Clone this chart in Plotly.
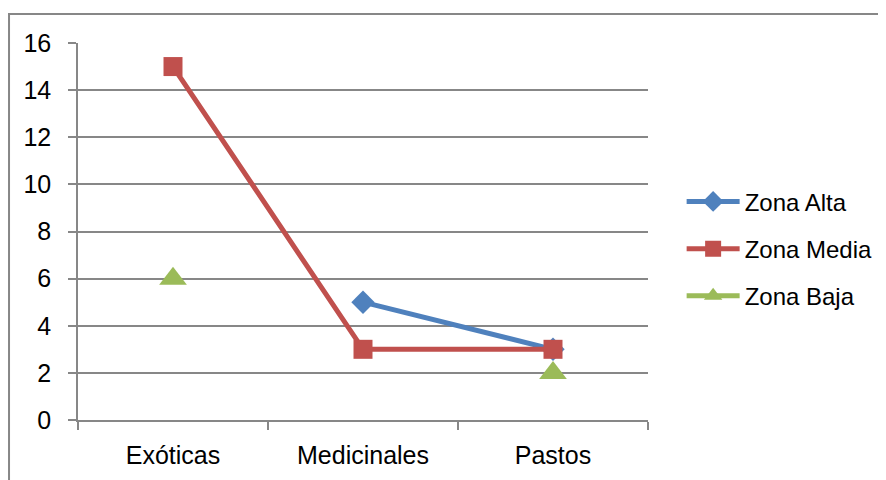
import plotly.graph_objects as go

categorias = ["Exóticas", "Medicinales", "Pastos"]
zona_alta = [None, 5, 3]
zona_media = [15, 3, 3]
zona_baja = [6, None, 2]
y_ticks = [0, 2, 4, 6, 8, 10, 12, 14, 16]

FONT = "Liberation Sans"
GRAY = "#878787"

fig = go.Figure()
series = [
    ("Zona Alta", zona_alta, "#4F81BD", "diamond", 18),
    ("Zona Media", zona_media, "#C0504D", "square", 19),
    ("Zona Baja", zona_baja, "#9BBB59", "triangle-up", 24),
]
for name, vals, color, sym, size in series:
    fig.add_trace(go.Scatter(
        x=categorias, y=vals, name=name, mode="lines+markers",
        line=dict(color=color, width=5), connectgaps=False,
        marker=dict(symbol=sym, size=size, color=color, line=dict(width=0)),
        legendgroup=name,
    ))

fig.update_layout(
    width=886, height=480,
    margin=dict(l=70, r=246, t=35, b=68, autoexpand=False),
    paper_bgcolor="white", plot_bgcolor="white",
    font=dict(family=FONT, size=24, color="black"),
    showlegend=True,
    legend=dict(x=1.059, xanchor="left", y=0.454, yanchor="middle",
                font=dict(size=24), tracegroupgap=13, itemwidth=53,
                bgcolor="rgba(0,0,0,0)"),
    xaxis=dict(type="category", categoryorder="array", categoryarray=categorias,
               range=[-0.5, 2.5], tickson="boundaries", ticks="outside",
               ticklen=8, tickcolor=GRAY, tickwidth=1.5, showgrid=False,
               showline=True, linecolor=GRAY, linewidth=1.5, automargin=False,
               ticklabelstandoff=12, tickfont=dict(size=25)),
    yaxis=dict(range=[0, 16], tickvals=y_ticks, ticks="outside", ticklen=8,
               tickcolor=GRAY, tickwidth=1.5, showgrid=True, gridcolor=GRAY,
               gridwidth=1.5, showline=True, linecolor=GRAY, linewidth=1.5,
               zeroline=False, ticklabelstandoff=12, automargin=False,
               tickfont=dict(size=25)),
    shapes=[dict(type="rect", xref="paper", yref="paper",
                 x0=-0.121, x1=1.43, y0=-0.18, y1=1.077,
                 line=dict(color=GRAY, width=2), fillcolor="rgba(0,0,0,0)",
                 layer="below")],
)

fig.write_html("out.html")
